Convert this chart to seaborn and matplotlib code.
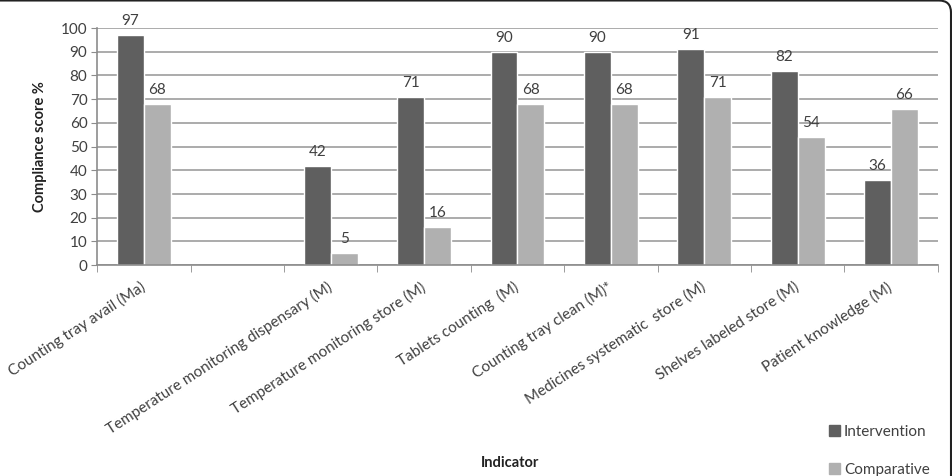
import pandas as pd
import matplotlib.pyplot as plt
import matplotlib.patches as mpatches
from matplotlib.ticker import FixedLocator
import seaborn as sns

# data
indicators = [
    "Counting tray avail (Ma)",
    " ",
    "Temperature monitoring dispensary (M)",
    "Temperature monitoring store (M)",
    "Tablets counting  (M)",
    "Counting tray clean (M)*",
    "Medicines systematic  store (M)",
    "Shelves labeled store (M)",
    "Patient knowledge (M)",
]
intervention = [97, None, 42, 71, 90, 90, 91, 82, 36]
comparative = [68, None, 5, 16, 68, 68, 71, 54, 66]
groups = ["Intervention", "Comparative"]
colors = ["#5f5f5f", "#b0b0b0"]

rows = []
for name, a, b in zip(indicators, intervention, comparative):
    if a is not None:
        rows.append({"Indicator": name, "Group": groups[0], "Score": a})
    if b is not None:
        rows.append({"Indicator": name, "Group": groups[1], "Score": b})
df = pd.DataFrame(rows)

sns.set_style("white")
plt.rcParams["font.family"] = ["Lato", "DejaVu Sans"]
text_col = "#404040"

fig = plt.figure(figsize=(9.53, 4.76), dpi=100)
ax = fig.add_axes([0.102, 0.443, 0.882, 0.498])

sns.barplot(data=df, x="Indicator", y="Score", hue="Group", order=indicators,
            hue_order=groups, palette=colors, width=0.575, saturation=1,
            legend=False, ax=ax)

for c in ax.containers:
    ax.bar_label(c, fmt="%.0f", padding=5, fontsize=11, color=text_col)

ax.set_ylim(0, 100)
ax.set_xlim(-0.5, len(indicators) - 0.5)
ax.set_yticks(range(0, 101, 10))
ax.yaxis.grid(True, color="#a5a5a5", linewidth=1.3)
ax.set_axisbelow(True)
for s in ["top", "right"]:
    ax.spines[s].set_visible(False)
for s in ["left", "bottom"]:
    ax.spines[s].set_color("#8c8c8c")
    ax.spines[s].set_linewidth(1.2)

ax.tick_params(axis="y", left=True, length=4, color="#8c8c8c", labelsize=11,
               labelcolor=text_col, pad=3)
ax.tick_params(axis="x", which="major", length=0, labelsize=11,
               labelcolor=text_col, pad=15)
ax.xaxis.set_minor_locator(FixedLocator([i - 0.5 for i in range(len(indicators) + 1)]))
ax.tick_params(axis="x", which="minor", bottom=True, length=5, color="#8c8c8c")
plt.setp(ax.get_xticklabels(), rotation=33, ha="right", va="center",
         rotation_mode="anchor")

ax.set_xlabel("")
ax.set_ylabel("Compliance score %", fontsize=10.5, fontweight="bold", color="#222222",
              labelpad=10)
fig.text(0.535, 0.027, "Indicator", fontsize=10.5, fontweight="bold",
         color="#222222", ha="center", va="center")

handles = [mpatches.Patch(color=c, label=g) for c, g in zip(colors, groups)]
fig.legend(handles=handles, loc="lower left", bbox_to_anchor=(0.855, -0.03),
           frameon=False, fontsize=11, labelspacing=1.55, handlelength=0.75,
           handleheight=0.75, handletextpad=0.25, labelcolor=text_col)

# rounded frame, only top and right edges visible
frame = mpatches.FancyBboxPatch((-0.5, -0.5), 9.51 + 0.5, 4.755 + 0.5,
                                boxstyle="round,pad=0,rounding_size=0.12",
                                transform=fig.dpi_scale_trans, fill=False,
                                edgecolor="#222222", linewidth=1.5)
fig.patches.append(frame)

fig.savefig("out.png", dpi=100)
